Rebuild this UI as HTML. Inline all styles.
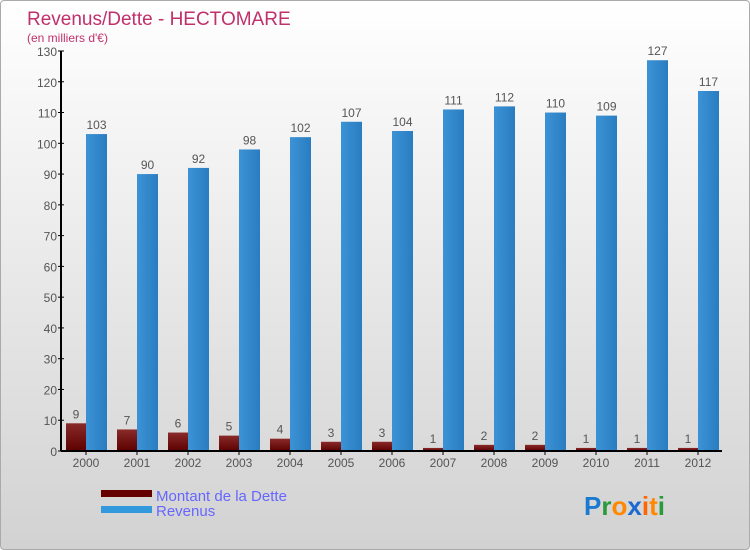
<!DOCTYPE html>
<html><head><meta charset="utf-8"><style>
body{margin:0;}
#c{width:750px;height:550px;position:relative;overflow:hidden;border:1px solid #aaa;box-sizing:border-box;border-radius:4px;background:linear-gradient(#ffffff,#d2d2d2);font-family:"Liberation Sans",sans-serif;}
</style></head><body>
<div id="c">
<svg id="s" width="750" height="550">
<defs>
<linearGradient id="gr" x1="0" x2="0" y1="0" y2="1"><stop offset="0" stop-color="#8a2a2a"/><stop offset="1" stop-color="#5c0000"/></linearGradient>
<linearGradient id="gb" x1="0" x2="1" y1="0" y2="0"><stop offset="0" stop-color="#3b93d6"/><stop offset="1" stop-color="#2a7cc0"/></linearGradient>
</defs>
<text x="26" y="24" font-size="19" fill="#c0306a">Revenus/Dette - HECTOMARE</text>
<text x="26" y="41" font-size="12" fill="#c0306a">(en milliers d'€)</text>
<g id="g"></g>
<rect x="100" y="489" width="51" height="7" fill="#660000"/>
<rect x="100" y="505" width="51" height="7" fill="#3399dd"/>
<text x="155" y="500" font-size="15" fill="#6666ff">Montant de la Dette</text>
<text x="155" y="515" font-size="15" fill="#6666ff">Revenus</text>
<text x="583" y="514" font-size="26" font-weight="bold"><tspan fill="#1a7ad0">P</tspan><tspan fill="#2a9a3a">r</tspan><tspan fill="#ff8800">o</tspan><tspan fill="#1a6ad0">x</tspan><tspan fill="#ff6600">i</tspan><tspan fill="#ff8800">t</tspan><tspan fill="#2a9a3a">i</tspan></text>
</svg></div>
<script>
const years=["2000","2001","2002","2003","2004","2005","2006","2007","2008","2009","2010","2011","2012"];
const dette=[9,7,6,5,4,3,3,1,2,2,1,1,1];
const revenus=[103,90,92,98,102,107,104,111,112,110,109,127,117];
const yTicks=[0,10,20,30,40,50,60,70,80,90,100,110,120,130];
const NS="http://www.w3.org/2000/svg";
const g=document.getElementById("g");
const y0=450,x0=60,sc=400/130;
const Y=v=>y0-v*sc;
const X=i=>85+i*51;
function mk(t,a,txt){const e=document.createElementNS(NS,t);for(const k in a)e.setAttribute(k,a[k]);if(txt!=null)e.textContent=txt;g.appendChild(e);return e;}
yTicks.forEach(v=>{
 const l=mk("line",{x1:x0-3,x2:x0+3,y1:Y(v),y2:Y(v),stroke:"#000"});
 
 
 const t=mk("text",{x:x0-4,y:Y(v)+5,"font-size":12,"text-anchor":"end",fill:"#555"},v);
 
 
});
years.forEach((yr,i)=>{
 const c=X(i);
 const b1=mk("rect",{x:c-20,y:Y(dette[i]),width:20,height:dette[i]*sc,fill:"url(#gr)"});
 
 
 const b2=mk("rect",{x:c,y:Y(revenus[i]),width:21,height:revenus[i]*sc,fill:"url(#gb)"});
 
 
 const t1=mk("text",{x:c-10,y:Y(dette[i])-5,"font-size":12,"text-anchor":"middle",fill:"#555"},dette[i]);
 
 
 const t2=mk("text",{x:c+10.5,y:Y(revenus[i])-5,"font-size":12,"text-anchor":"middle",fill:"#555"},revenus[i]);
 
 
 const tk=mk("line",{x1:c,x2:c,y1:y0,y2:y0+4,stroke:"#000"});
 
 
 const xl=mk("text",{x:c,y:y0+16,"font-size":12,"text-anchor":"middle",fill:"#555"},yr);
 
 
});
const ya=mk("line",{x1:x0,x2:x0,y1:Y(130),y2:y0,stroke:"#000","stroke-width":2});


const xa=mk("line",{x1:x0,x2:721,y1:y0,y2:y0,stroke:"#000","stroke-width":2});


</script>
</body></html>
